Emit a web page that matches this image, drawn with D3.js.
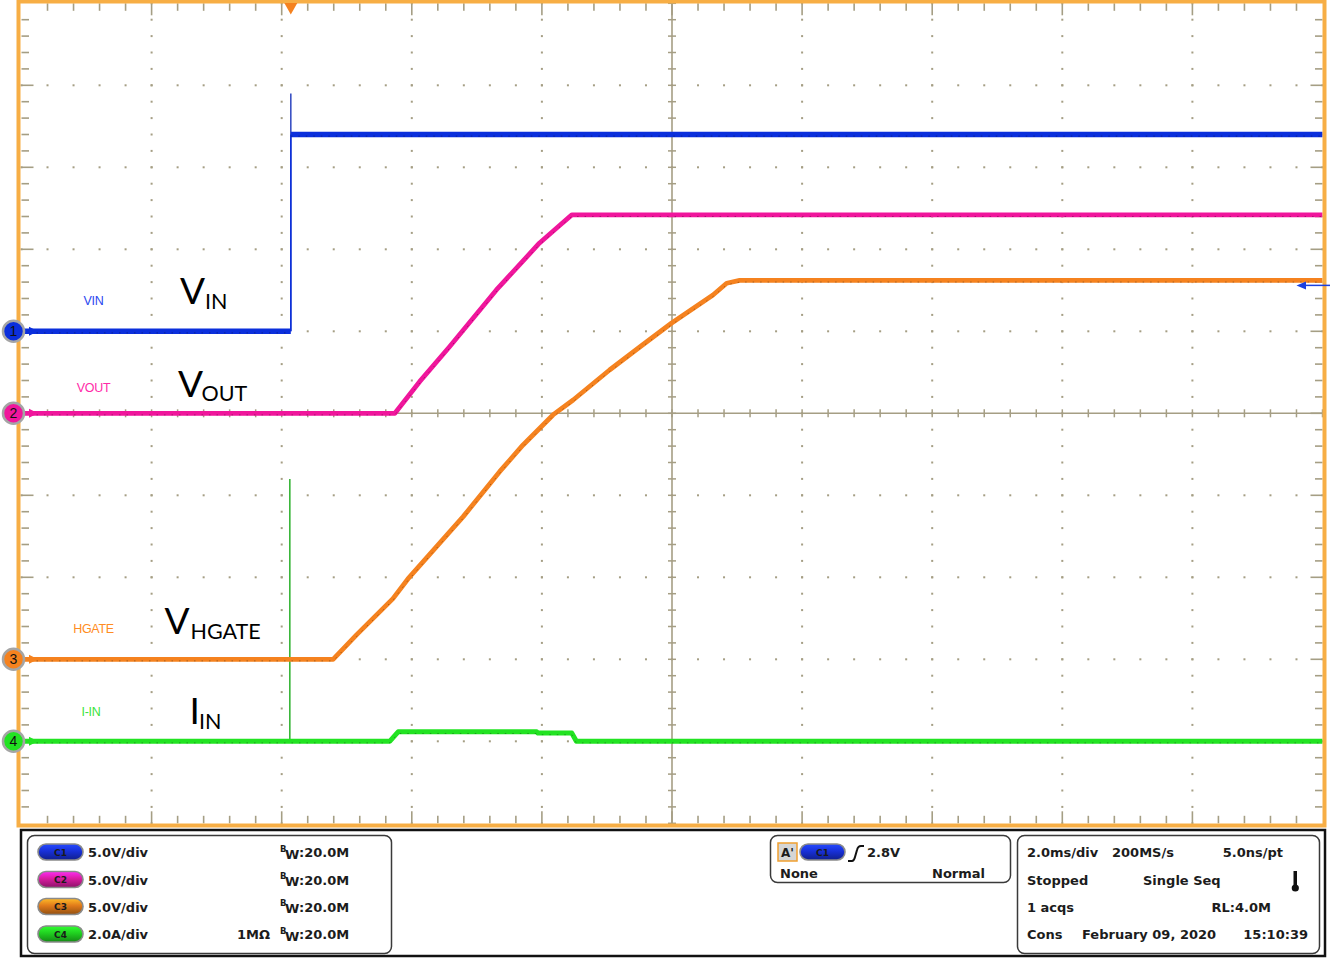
<!DOCTYPE html>
<html><head><meta charset="utf-8">
<script src="https://cdn.jsdelivr.net/npm/d3@7"></script>
<style>
html,body{margin:0;padding:0;background:#fff;}
svg{display:block;}
</style></head><body>
<svg id="c" width="1333" height="958"></svg>
<script>
// ---------------- data ----------------
const timeDomain = [-4.14, 15.86];           // ms, trigger at t = 0 (2.0 ms/div, 10 div)
const channelIds = ["C1", "C2", "C3", "C4"];
const channelNames = ["VIN", "VOUT", "HGATE", "I-IN"];
const channelScales = [5, 5, 5, 2];           // V/div, V/div, V/div, A/div
const channelOffsets = [1, 0, -3, -4];        // ground position in divisions
const channelColors = ["#0b2fdc", "#f0169c", "#f5821f", "#22e322"];
const labelColors = ["#2a48f0", "#ff2aa8", "#ff8c22", "#3ae43a"];
const scaleLabels = ["5.0V/div", "5.0V/div", "5.0V/div", "2.0A/div"];

const vinT = [-4.14, 0.0, 0.0, 15.86];
const vinV = [0, 0, 12.0, 12.0];
const vinSpikeV = [0, 14.5];

const voutT = [-4.14, 1.60, 1.98, 2.44, 3.16, 3.82, 4.14, 4.32, 15.86];
const voutV = [0, 0, 1.93, 4.06, 7.52, 10.37, 11.48, 12.1, 12.1];

const hgateT = [-4.14, 0.65, 1.01, 1.57, 1.80, 2.65, 3.21, 3.57, 4.03, 4.34, 4.90, 5.37, 5.85, 6.49, 6.70, 6.90, 15.86];
const hgateV = [0, 0, 1.49, 3.70, 4.90, 8.70, 11.44, 13.07, 14.90, 15.81, 17.64, 19.06, 20.49, 22.21, 22.93, 23.1, 23.1];

const iinT = [-4.14, 1.52, 1.65, 3.78, 3.80, 4.32, 4.39, 15.86];
const iinV = [0, 0, 0.23, 0.23, 0.20, 0.20, 0, 0];
const iinSpikeV = [0, 6.4];

const triggerLevel = 2.8; // V on C1

const bigLabels = [
  {main: "V", sub: "IN"}, {main: "V", sub: "OUT"}, {main: "V", sub: "HGATE"}, {main: "I", sub: "IN"}
];

const infoRight = [
  ["2.0ms/div", "200MS/s", "5.0ns/pt"],
  ["Stopped", "Single Seq", ""],
  ["1 acqs", "", "RL:4.0M"],
  ["Cons", "February 09, 2020", "15:10:39"]
];

// ---------------- layout ----------------
const svg = d3.select("#c");
const L = 21.5, T = 3.3, W = 1301, H = 820;
const x = d3.scaleLinear().domain(timeDomain).range([L, L + W]);
const xd = d3.scaleLinear().domain([0, 10]).range([L, L + W]);
const yd = d3.scaleLinear().domain([-5, 5]).range([T + H, T]);
const yc = i => v => yd(v / channelScales[i] + channelOffsets[i]);

const gridCol = "#a59e84";

svg.append("rect").attr("x", 0).attr("y", 0).attr("width", 1333).attr("height", 958).attr("fill", "#fff");
const g = svg.append("g");

// grid dots on major lines
const minor = d3.range(0, 50.001, 1).map(k => k * 0.2);
for (let i = 1; i < 10; i++) {
  if (i === 5) continue;
  minor.forEach(m => {
    g.append("rect").attr("x", xd(i) - 1).attr("y", yd(m - 5) - 1).attr("width", 2).attr("height", 2).attr("fill", gridCol);
  });
}
for (let k = -4; k <= 4; k++) {
  if (k === 0) continue;
  minor.forEach(m => {
    g.append("rect").attr("x", xd(m) - 1).attr("y", yd(k) - 1).attr("width", 2).attr("height", 2).attr("fill", gridCol);
  });
}
// center cross
g.append("line").attr("x1", L).attr("x2", L + W).attr("y1", yd(0)).attr("y2", yd(0)).attr("stroke", gridCol).attr("stroke-width", 1.6);
g.append("line").attr("x1", xd(5)).attr("x2", xd(5)).attr("y1", T).attr("y2", T + H).attr("stroke", gridCol).attr("stroke-width", 1.6);
minor.forEach(m => {
  g.append("line").attr("x1", xd(m)).attr("x2", xd(m)).attr("y1", yd(0) - 4).attr("y2", yd(0) + 4).attr("stroke", gridCol).attr("stroke-width", 1.5);
  g.append("line").attr("y1", yd(m - 5)).attr("y2", yd(m - 5)).attr("x1", xd(5) - 4).attr("x2", xd(5) + 4).attr("stroke", gridCol).attr("stroke-width", 1.5);
});
// edge ticks
minor.forEach((m, idx) => {
  const major = idx % 5 === 0;
  const len = major ? 12 : 7.5;
  if (idx === 0 || idx === 50) return;
  g.append("line").attr("x1", xd(m)).attr("x2", xd(m)).attr("y1", T).attr("y2", T + len).attr("stroke", gridCol).attr("stroke-width", 1.6);
  g.append("line").attr("x1", xd(m)).attr("x2", xd(m)).attr("y1", T + H).attr("y2", T + H - len).attr("stroke", gridCol).attr("stroke-width", 1.6);
  g.append("line").attr("y1", yd(m - 5)).attr("y2", yd(m - 5)).attr("x1", L).attr("x2", L + len).attr("stroke", gridCol).attr("stroke-width", 1.6);
  g.append("line").attr("y1", yd(m - 5)).attr("y2", yd(m - 5)).attr("x1", L + W).attr("x2", L + W - len).attr("stroke", gridCol).attr("stroke-width", 1.6);
});

// ---------------- traces ----------------
function drawTrace(ts, vs, i, w) {
  const y = yc(i);
  const pts = ts.map((t, k) => [t, vs[k]]);
  let seg = [pts[0]];
  const segs = [];
  for (let k = 1; k < pts.length; k++) {
    if (pts[k][0] === pts[k - 1][0]) {
      segs.push(seg);
      g.append("line").attr("x1", x(pts[k][0])).attr("x2", x(pts[k][0]))
        .attr("y1", y(pts[k - 1][1])).attr("y2", y(pts[k][1]))
        .attr("stroke", channelColors[i]).attr("stroke-width", 1.5);
      seg = [pts[k]];
    } else seg.push(pts[k]);
  }
  segs.push(seg);
  const line = d3.line().x(d => x(d[0])).y(d => y(d[1]));
  segs.forEach(s => {
    if (s.length < 2) return;
    g.append("path").attr("d", line(s)).attr("fill", "none")
      .attr("stroke", channelColors[i]).attr("stroke-width", w).attr("stroke-linejoin", "round");
    g.append("path").attr("d", line(s)).attr("fill", "none")
      .attr("stroke", "#000").attr("stroke-opacity", 0.3).attr("stroke-width", 1)
      .attr("stroke-dasharray", "1.5 6").attr("transform", "translate(0,1.6)");
  });
}
g.append("line").attr("x1", x(0)).attr("x2", x(0)).attr("y1", yc(0)(vinSpikeV[0])).attr("y2", yc(0)(vinSpikeV[1]))
  .attr("stroke", "#3b52c4").attr("stroke-width", 1.6);
g.append("line").attr("x1", x(-0.015)).attr("x2", x(-0.015)).attr("y1", yc(3)(iinSpikeV[0])).attr("y2", yc(3)(iinSpikeV[1]))
  .attr("stroke", "#2bb02b").attr("stroke-width", 1.5);

drawTrace(iinT, iinV, 3, 5);
drawTrace(hgateT, hgateV, 2, 4.8);
drawTrace(voutT, voutV, 1, 4.8);
drawTrace(vinT, vinV, 0, 5.5);

// ---------------- frame ----------------
svg.append("rect").attr("x", 18.5).attr("y", 1.5).attr("width", 1306).attr("height", 824)
  .attr("fill", "none").attr("stroke", "#f7ae45").attr("stroke-width", 4);

svg.append("path").attr("d", `M${x(0) - 6.5},3 L${x(0) + 6.5},3 L${x(0)},14.5 Z`).attr("fill", "#f5821f");

const ty = yc(0)(triggerLevel);
svg.append("line").attr("x1", 1304).attr("x2", 1330).attr("y1", ty).attr("y2", ty).attr("stroke", "#1a40e0").attr("stroke-width", 1.5);
svg.append("path").attr("d", `M1296.5,${ty} L1306,${ty - 4} L1306,${ty + 4} Z`).attr("fill", "#1a40e0");

channelColors.forEach((c, i) => {
  const gy = yc(i)(0);
  svg.append("line").attr("x1", 22).attr("x2", 32).attr("y1", gy).attr("y2", gy).attr("stroke", c).attr("stroke-width", 2);
  svg.append("path").attr("d", `M29,${gy - 4.5} L38,${gy} L29,${gy + 4.5} Z`).attr("fill", c);
  svg.append("circle").attr("cx", 13.5).attr("cy", gy).attr("r", 10.5).attr("fill", c).attr("stroke", "#a5a5a5").attr("stroke-width", 2.5);
  svg.append("text").attr("x", 13.5).attr("y", gy + 5).attr("text-anchor", "middle")
    .attr("font-family", "Liberation Sans, Arial, sans-serif").attr("font-size", 14).attr("fill", "#111").text(i + 1);
});

const smallPos = [[93.5, 305], [93.5, 391.5], [93.5, 632.5], [91, 716]];
channelNames.forEach((n, i) => {
  svg.append("text").attr("x", smallPos[i][0]).attr("y", smallPos[i][1]).attr("text-anchor", "middle")
    .attr("font-family", "Liberation Sans, Arial, sans-serif").attr("font-size", 12.5).attr("letter-spacing", -0.3)
    .attr("fill", labelColors[i]).text(n);
});

const bigPos = [
  {x: 180, y: 304, sx: 205, sy: 309},
  {x: 178, y: 397, sx: 201.5, sy: 401},
  {x: 164.5, y: 633.5, sx: 190.5, sy: 639},
  {x: 189.5, y: 723.5, sx: 199, sy: 728.5}
];
bigLabels.forEach((b, i) => {
  const t = svg.append("text").attr("font-family", "Lato, 'Open Sans', sans-serif").attr("fill", "#000");
  t.append("tspan").attr("x", bigPos[i].x).attr("y", bigPos[i].y).attr("font-size", 37).text(b.main);
  t.append("tspan").attr("x", bigPos[i].sx).attr("y", bigPos[i].sy).attr("font-size", 21.5).text(b.sub);
});

// ---------------- info panel ----------------
const font = "DejaVu Sans, Verdana, sans-serif";
svg.append("rect").attr("x", 21).attr("y", 830).attr("width", 1304).attr("height", 126)
  .attr("fill", "#fff").attr("stroke", "#111").attr("stroke-width", 2.5);

const defs = svg.append("defs");
const pillCols = ["#1830d8", "#d81ca0", "#e07a1a", "#20d020"];
pillCols.forEach((c, i) => {
  const lg = defs.append("linearGradient").attr("id", "pg" + i).attr("x1", 0).attr("x2", 0).attr("y1", 0).attr("y2", 1);
  lg.append("stop").attr("offset", "0%").attr("stop-color", d3.color(c).brighter(1.2));
  lg.append("stop").attr("offset", "45%").attr("stop-color", c);
  lg.append("stop").attr("offset", "100%").attr("stop-color", d3.color(c).darker(1.2));
});
function pill(px, py, i, label) {
  svg.append("rect").attr("x", px).attr("y", py).attr("width", 45).attr("height", 16).attr("rx", 8)
    .attr("fill", `url(#pg${i})`).attr("stroke", "#8a8a8a").attr("stroke-width", 1.6);
  svg.append("text").attr("x", px + 22.5).attr("y", py + 11.5).attr("text-anchor", "middle")
    .attr("font-family", font).attr("font-weight", "bold").attr("font-size", 9).attr("fill", "#1a1a1a").text(label);
}
function box(bx, by, bw, bh) {
  svg.append("rect").attr("x", bx).attr("y", by).attr("width", bw).attr("height", bh).attr("rx", 7)
    .attr("fill", "#fff").attr("stroke", "#3a3a3a").attr("stroke-width", 1.5);
}
function txt(tx, ty, s, anchor) {
  return svg.append("text").attr("x", tx).attr("y", ty).attr("text-anchor", anchor || "start")
    .attr("font-family", font).attr("font-weight", "bold").attr("font-size", 13).attr("fill", "#1c1c1c").text(s);
}

box(27.5, 835.5, 364, 118);
const rowsY = [852, 879.5, 906.5, 934];
channelIds.forEach((id, i) => {
  pill(38, rowsY[i] - 8, i, id);
  txt(88, rowsY[i] + 5, scaleLabels[i]);
  const bw = svg.append("text").attr("x", 280).attr("y", rowsY[i] + 5)
    .attr("font-family", font).attr("font-weight", "bold").attr("fill", "#1c1c1c");
  bw.append("tspan").attr("font-size", 8.5).attr("dy", -5.5).text("B");
  bw.append("tspan").attr("font-size", 13).attr("dx", -1.5).attr("dy", 7).text("W");
  bw.append("tspan").attr("font-size", 13).attr("dy", -1.5).text(":20.0M");
});
txt(237, rowsY[3] + 5, "1MΩ");

box(770.5, 835.5, 240, 47);
svg.append("rect").attr("x", 778).attr("y", 843).attr("width", 19).attr("height", 18)
  .attr("fill", "#d6d6d6").attr("stroke", "#f0a030").attr("stroke-width", 1.5);
txt(787.5, 857, "A'", "middle").attr("font-size", 12);
pill(800, 844, 0, "C1");
svg.append("path").attr("d", "M848,861 L852,861 Q854,861 855,857 L857,850 Q858,846 861,846 L864,846")
  .attr("fill", "none").attr("stroke", "#111").attr("stroke-width", 2);
txt(867, 857, "2.8V");
txt(780, 878, "None");
txt(985, 878, "Normal", "end");

box(1017.5, 835.5, 302, 118);
const infoX = [[1027, "start"], [1112, "start"], [1283, "end"]];
infoRight.forEach((row, r) => {
  row.forEach((s, c) => {
    if (!s) return;
    let xx = infoX[c][0], an = infoX[c][1];
    if (r === 1 && c === 1) xx = 1143;
    if (r === 2 && c === 2) xx = 1271;
    if (r === 3 && c === 1) xx = 1082;
    if (r === 3 && c === 2) xx = 1308;
    txt(xx, rowsY[r] + 5, s, an);
  });
});
svg.append("rect").attr("x", 1293.5).attr("y", 871).attr("width", 3.5).attr("height", 15).attr("fill", "#111");
svg.append("circle").attr("cx", 1295.3).attr("cy", 888).attr("r", 3.6).attr("fill", "#111");
</script>
</body></html>
